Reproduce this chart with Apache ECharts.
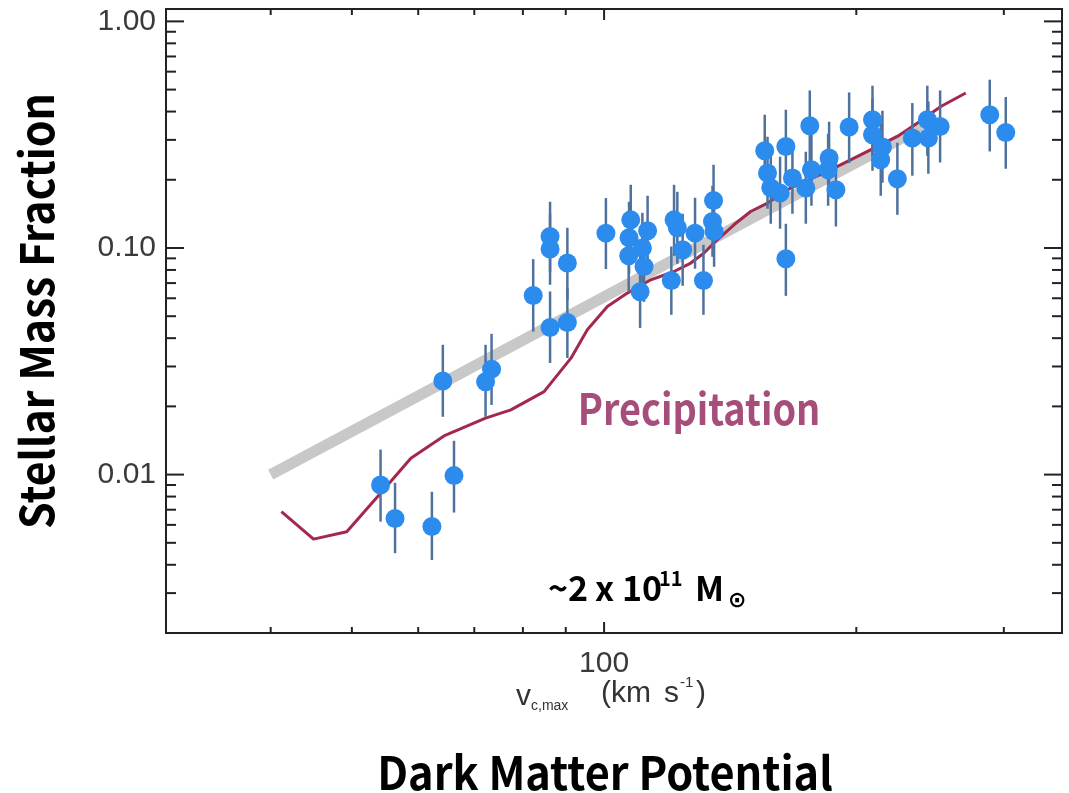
<!DOCTYPE html>
<html lang="en">
<head>
<meta charset="UTF-8" />
<title>Stellar Mass Fraction vs Dark Matter Potential</title>
<style>
  html, body { margin: 0; padding: 0; background: #fff; }
  #main { width: 1069px; height: 793px; }
</style>
</head>
<body>
<div id="main"></div>
<script src="https://cdn.jsdelivr.net/npm/echarts@6/dist/echarts.min.js"></script>
<script>
// galaxies: v_c,max (km/s), stellar mass fraction and its error bar
var vc = [54.1, 56.3, 62.3, 66.2, 64.2, 72.2, 73.4, 82.3, 86.2, 86.2,
  86.2, 90.4, 90.4, 100.5, 107.6, 107.1, 107.0, 112.7, 111.1, 111.6,
  110.4, 121.2, 122.3, 124.1, 120.3, 128.4, 131.4, 135.1, 134.7, 135.3,
  155.5, 156.7, 158.1, 162.2, 164.8, 167.8, 164.8, 176.0, 176.8, 174.1,
  185.6, 185.1, 189.1, 196.1, 209.1, 209.1, 214.9, 213.9, 223.9, 233.3,
  243.1, 243.8, 251.8, 288.6, 301.6];
var fstar = [0.0090, 0.0064, 0.0059, 0.0099, 0.0259, 0.0257, 0.0292, 0.0617, 0.1124, 0.0989,
  0.0446, 0.0858, 0.0469, 0.1163, 0.1331, 0.1109, 0.0924, 0.1191, 0.0999, 0.0829,
  0.0641, 0.1331, 0.1228, 0.0982, 0.0719, 0.1163, 0.0719, 0.1621, 0.1309, 0.1183,
  0.2686, 0.2142, 0.1844, 0.1747, 0.2806, 0.2035, 0.0896, 0.3464, 0.2214, 0.1838,
  0.2494, 0.2214, 0.1807, 0.3419, 0.3681, 0.3160, 0.2790, 0.2451, 0.2021, 0.3056,
  0.3681, 0.3056, 0.3439, 0.3873, 0.3236];
var fLow = [0.0062, 0.0045, 0.0042, 0.0068, 0.0180, 0.0180, 0.0203, 0.0428, 0.0785, 0.0688,
  0.0311, 0.0591, 0.0327, 0.0807, 0.0924, 0.0769, 0.0641, 0.0826, 0.0695, 0.0579,
  0.0444, 0.0924, 0.0852, 0.0681, 0.0507, 0.0810, 0.0507, 0.1132, 0.0915, 0.0826,
  0.1863, 0.1490, 0.1279, 0.1216, 0.1940, 0.1416, 0.0615, 0.2378, 0.1536, 0.1279,
  0.1735, 0.1536, 0.1244, 0.2370, 0.2553, 0.2192, 0.1940, 0.1700, 0.1401, 0.2084,
  0.2553, 0.2127, 0.2385, 0.2667, 0.2237];
var fHigh = [0.0129, 0.0092, 0.0084, 0.0141, 0.0374, 0.0374, 0.0418, 0.0893, 0.1600, 0.1416,
  0.0643, 0.1228, 0.0667, 0.1661, 0.1901, 0.1600, 0.1331, 0.1700, 0.1430, 0.1191,
  0.0924, 0.1901, 0.1770, 0.1416, 0.1015, 0.1666, 0.1033, 0.2330, 0.1882, 0.1700,
  0.3873, 0.3097, 0.2659, 0.2527, 0.4075, 0.2943, 0.1279, 0.4959, 0.3193, 0.2659,
  0.3607, 0.3193, 0.2605, 0.4859, 0.5201, 0.4557, 0.4034, 0.3534, 0.2913, 0.4362,
  0.5201, 0.4430, 0.4959, 0.5528, 0.4636];

// precipitation model
var precipV = [41.2, 45.0, 49.3, 54.1, 58.8, 64.4, 72.2, 77.4, 84.8, 91.3,
  95.5, 100.9, 106.6, 113.7, 121.2, 126.9, 131.6, 136.5, 142.9, 149.6,
  156.7, 167.0, 177.3, 188.1, 204.3, 223.9, 236.6, 252.3, 270.2];
var precipF = [0.00687, 0.00519, 0.0056, 0.00828, 0.01181, 0.01482, 0.01774, 0.0193, 0.02325, 0.03265,
  0.04354, 0.05516, 0.06324, 0.07238, 0.07873, 0.0858, 0.095, 0.1087, 0.1266, 0.1449,
  0.1578, 0.1838, 0.2035, 0.2253, 0.2624, 0.3107, 0.3559, 0.4213, 0.483];

// grey band
var bandV = [40, 250];
var bandF = [0.01, 0.37];

var xMajorTicks = [100];
var xMinorTicks = [40, 50, 60, 70, 80, 90, 200, 300];
var yMajorTicks = [0.01, 0.1, 1];
var yMinorTicks = [0.003, 0.004, 0.005, 0.006, 0.007, 0.008, 0.009,
  0.02, 0.03, 0.04, 0.05, 0.06, 0.07, 0.08, 0.09,
  0.2, 0.3, 0.4, 0.5, 0.6, 0.7, 0.8, 0.9];

var chart = echarts.init(document.getElementById("main"));

function isDecade(v) {
  var l = Math.log10(v);
  return Math.abs(l - Math.round(l)) < 1e-6;
}

var points = vc.map(function (v, i) { return [v, fstar[i]]; });
var bars = vc.map(function (v, i) { return [v, fLow[i], fHigh[i]]; });
var precip = precipV.map(function (v, i) { return [v, precipF[i]]; });
var band = bandV.map(function (v, i) { return [v, bandF[i]]; });

var yTickData = yMajorTicks.map(function (v) { return [100, v, 18]; })
  .concat(yMinorTicks.map(function (v) { return [100, v, 10]; }));
var xTickData = xMajorTicks.map(function (v) { return [v, 0.1, 11]; })
  .concat(xMinorTicks.map(function (v) { return [v, 0.1, 6]; }));

var tickStyle = { stroke: "#222", lineWidth: 2 };
var boldFont = '"Noto Sans CJK SC"';

function txt(x, y, text, font, extra) {
  var el = {
    type: "text", x: x, y: y,
    style: { text: text, font: font, fill: "#000", align: "left", verticalAlign: "middle" }
  };
  if (extra) {
    for (var k in extra) {
      if (k === "style") { for (var s in extra.style) el.style[s] = extra.style[s]; }
      else el[k] = extra[k];
    }
  }
  return el;
}

var option = {
  animation: false,
  grid: {
    left: 166, right: 7, top: 9, bottom: 160,
    show: true, borderColor: "#222", borderWidth: 2
  },
  xAxis: {
    type: "log", logBase: 10, min: 30, max: 352,
    axisLine: { show: false }, axisTick: { show: false }, splitLine: { show: false },
    axisLabel: {
      margin: 16, fontSize: 30, color: "#3a3a3a", fontFamily: "Liberation Sans",
      formatter: function (v) { return isDecade(v) ? String(Math.round(v)) : ""; }
    }
  },
  yAxis: {
    type: "log", logBase: 10, min: 0.002, max: 1.134,
    axisLine: { show: false }, axisTick: { show: false }, splitLine: { show: false },
    axisLabel: {
      margin: 10, fontSize: 30, color: "#3a3a3a", fontFamily: "Liberation Sans",
      formatter: function (v) { return isDecade(v) ? v.toFixed(2) : ""; }
    }
  },
  series: [
    {
      type: "line", data: band, symbol: "none", z: 1,
      lineStyle: { color: "#c8c8c8", width: 11, cap: "butt" }
    },
    {
      type: "line", data: precip, symbol: "none", z: 2,
      lineStyle: { color: "#a3284f", width: 3 }
    },
    {
      type: "custom", data: bars, z: 3,
      encode: { x: 0, y: [1, 2] },
      renderItem: function (params, api) {
        var lo = api.coord([api.value(0), api.value(1)]);
        var hi = api.coord([api.value(0), api.value(2)]);
        return {
          type: "line",
          shape: { x1: lo[0], y1: lo[1], x2: hi[0], y2: hi[1] },
          style: { stroke: "#4f729c", lineWidth: 2.5 }
        };
      }
    },
    {
      type: "scatter", data: points, z: 4,
      symbol: "circle", symbolSize: 19,
      itemStyle: { color: "#2b8cee", opacity: 1 }
    },
    {
      type: "custom", data: yTickData, z: 5, clip: false,
      encode: { x: 0, y: 1 },
      renderItem: function (params, api) {
        var cs = params.coordSys;
        var p = api.coord([api.value(0), api.value(1)]);
        var len = api.value(2);
        return {
          type: "group",
          children: [
            { type: "line", shape: { x1: cs.x, y1: p[1], x2: cs.x + len, y2: p[1] }, style: tickStyle },
            { type: "line", shape: { x1: cs.x + cs.width - len, y1: p[1], x2: cs.x + cs.width, y2: p[1] }, style: tickStyle }
          ]
        };
      }
    },
    {
      type: "custom", data: xTickData, z: 5, clip: false,
      encode: { x: 0, y: 1 },
      renderItem: function (params, api) {
        var cs = params.coordSys;
        var p = api.coord([api.value(0), api.value(1)]);
        var len = api.value(2);
        return {
          type: "group",
          children: [
            { type: "line", shape: { x1: p[0], y1: cs.y + cs.height, x2: p[0], y2: cs.y + cs.height - len }, style: tickStyle },
            { type: "line", shape: { x1: p[0], y1: cs.y, x2: p[0], y2: cs.y + len }, style: tickStyle }
          ]
        };
      }
    }
  ],
  graphic: [
    txt(37, 311, "Stellar Mass Fraction", "bold 46px " + boldFont,
      { rotation: Math.PI / 2, scaleX: 0.93, style: { align: "center" } }),
    txt(605, 773, "Dark Matter Potential", "bold 46px " + boldFont,
      { scaleX: 0.94, style: { align: "center" } }),
    txt(699, 409, "Precipitation", "bold 43px " + boldFont,
      { scaleX: 0.88, style: { align: "center", fill: "#a64d79" } }),
    // ~2 x 10^11 M_sun
    txt(548, 588, "~2", "bold 34px " + boldFont),
    txt(595, 588, "x", "bold 34px " + boldFont),
    txt(622, 588, "10", "bold 34px " + boldFont),
    txt(659, 578, "11", "bold 20px " + boldFont),
    txt(695, 588, "M", "bold 34px " + boldFont),
    txt(728, 601, "\u2299", 'bold 22px "DejaVu Sans"'),
    // v_c,max (km s^-1)
    txt(516, 697, "v", '30px "Liberation Sans"', { style: { fill: "#333" } }),
    txt(531, 706, "c,max", '14px "Liberation Sans"', { style: { fill: "#333" } }),
    txt(601, 694, "(km", '30px "Liberation Sans"', { style: { fill: "#333" } }),
    txt(664, 694, "s", '30px "Liberation Sans"', { style: { fill: "#333" } }),
    txt(680, 683, "-1", '15px "Liberation Sans"', { style: { fill: "#333" } }),
    txt(696, 694, ")", '30px "Liberation Sans"', { style: { fill: "#333" } })
  ]
};

chart.setOption(option);
</script>
</body>
</html>
